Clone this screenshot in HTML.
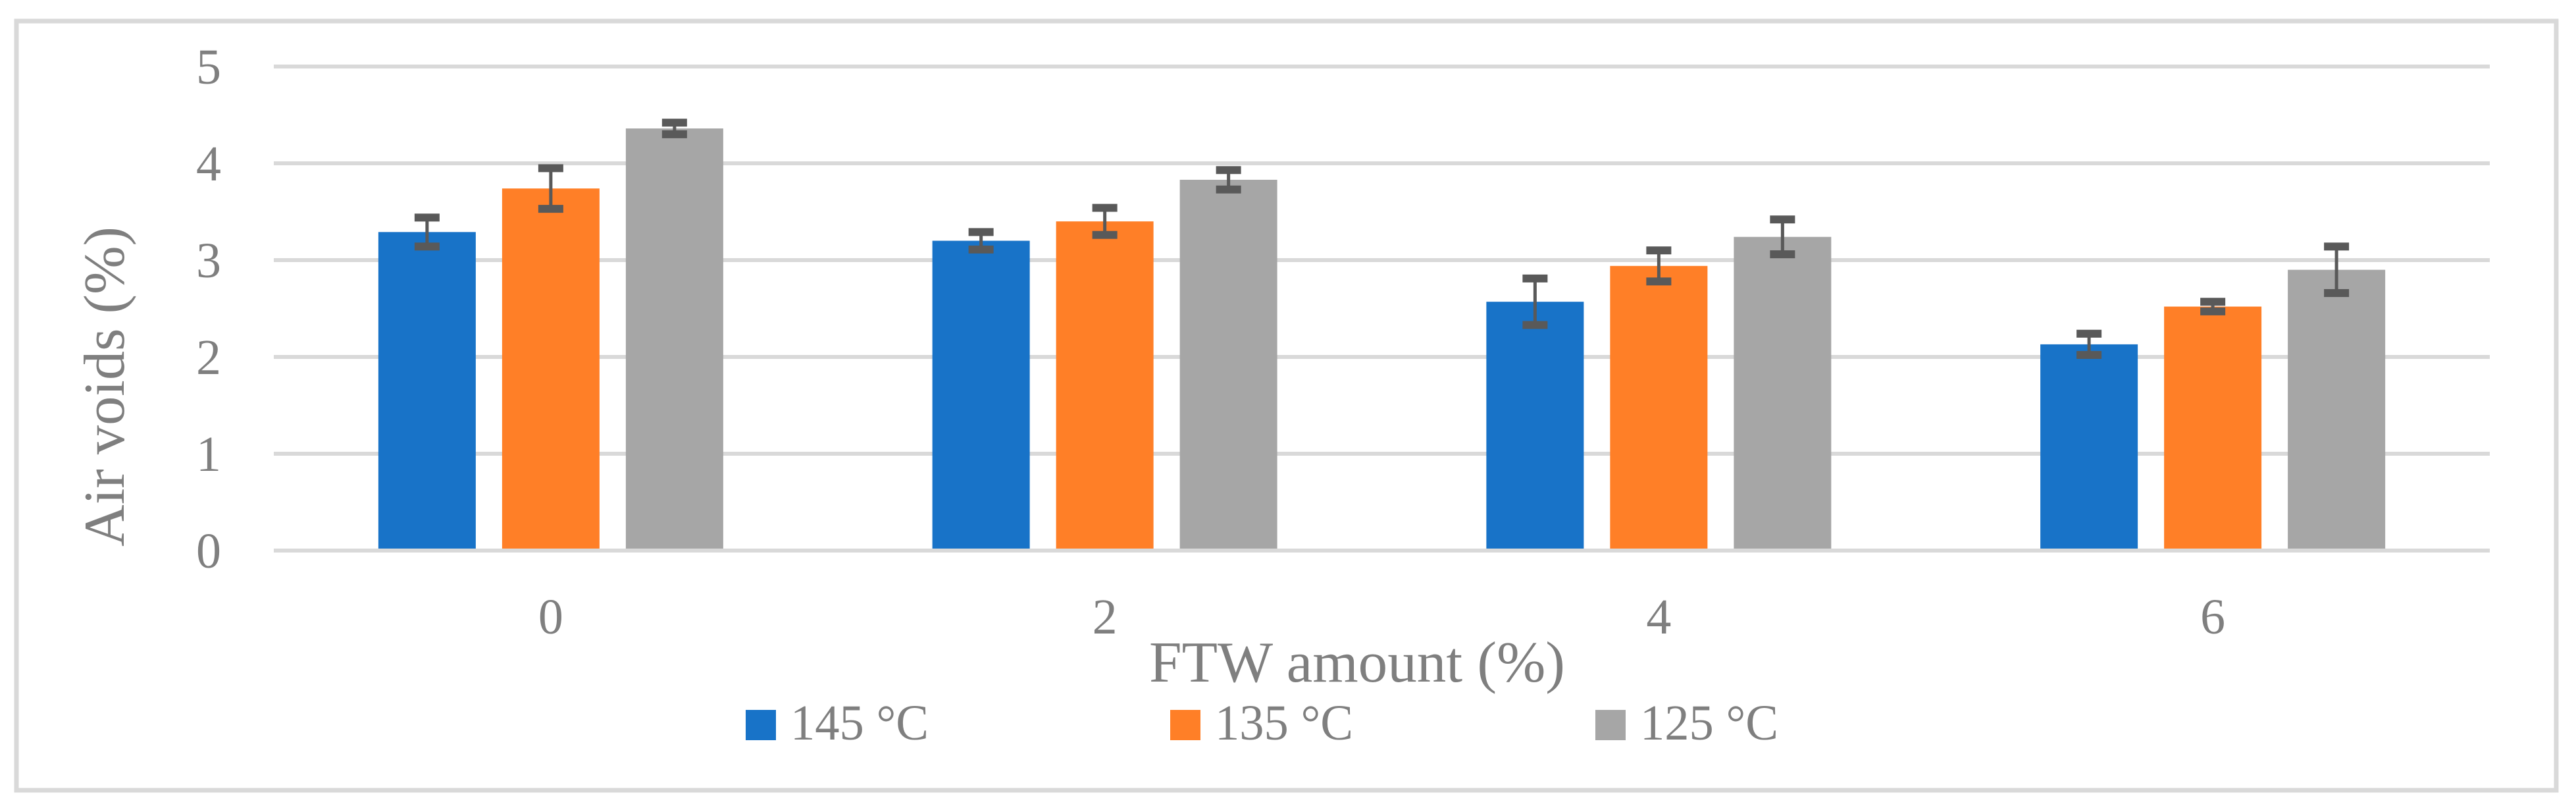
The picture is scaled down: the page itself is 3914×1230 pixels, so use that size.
<!DOCTYPE html>
<html><head><meta charset="utf-8"><style>
html,body{margin:0;padding:0;background:#fff;}
svg{display:block;}
text{font-family:"Liberation Serif",serif;fill:#7f7f7f;}
</style></head><body>
<svg id="chart" width="3914" height="1230" viewBox="0 0 3914 1230" xmlns="http://www.w3.org/2000/svg">
<rect x="25" y="32" width="3859" height="1168" fill="#fff" stroke="#d9d9d9" stroke-width="7"/>
<g id="grid"></g><g id="bars"></g><g id="errs"></g><g id="labels"></g>
<text transform="translate(188,587) rotate(-90)" text-anchor="middle" font-size="88" textLength="486" lengthAdjust="spacingAndGlyphs">Air voids (%)</text>
<text x="2062" y="1035" text-anchor="middle" font-size="88" textLength="632" lengthAdjust="spacingAndGlyphs">FTW amount (%)</text>
<g id="legend"></g>
</svg>
<script>
const categories = ["0","2","4","6"];
const seriesNames = ["145 °C","135 °C","125 °C"];
const s145 = [3.29, 3.20, 2.57, 2.13];
const s135 = [3.74, 3.40, 2.94, 2.52];
const s125 = [4.36, 3.83, 3.24, 2.90];
const e145 = [0.15, 0.09, 0.24, 0.11];
const e135 = [0.21, 0.14, 0.16, 0.05];
const e125 = [0.06, 0.10, 0.18, 0.24];
const yTicks = [0,1,2,3,4,5];
const colors = ["#1873c8","#ff7f27","#a6a6a6"];
const NS="http://www.w3.org/2000/svg";
const L=416,R=3783,Y0=836,UNIT=147;
const cw=(R-L)/categories.length;
const y=v=>Y0-v*UNIT;
const xc=i=>L+cw*(i+0.5);
function mk(tag,attrs,parent){const e=document.createElementNS(NS,tag);for(const k in attrs)e.setAttribute(k,attrs[k]);document.getElementById(parent).appendChild(e);return e;}
yTicks.forEach(t=>{
  const l=mk('line',{x1:L,x2:R,y1:y(t),y2:y(t),stroke:'#d9d9d9','stroke-width':6},'grid');
  
  
  const tx=mk('text',{x:336,y:y(t)+26,'text-anchor':'end','font-size':76},'labels');
  tx.textContent=t;
  
  
});
categories.forEach((c,i)=>{
  const tx=mk('text',{x:xc(i),y:962,'text-anchor':'middle','font-size':76},'labels');
  tx.textContent=c;
  
  
});
const series=[s145,s135,s125], errs=[e145,e135,e125];
const bw=148, step=188;
series.forEach((s,k)=>{
  s.forEach((v,i)=>{
    const cx=xc(i)+(k-1)*step;
    const b=mk('rect',{x:cx-bw/2,y:y(v),width:bw,height:Y0-3-y(v),fill:colors[k]},'bars');
    
    
    const e=errs[k][i];
    const g=mk('g',{stroke:'#595959','stroke-width':6},'errs');
    
    
    [[cx,cx,y(v+e),y(v-e)],[cx-19,cx+19,y(v+e),y(v+e)],[cx-19,cx+19,y(v-e),y(v-e)]].forEach(p=>{
      const ln=document.createElementNS(NS,'line');
      ln.setAttribute('x1',p[0]);ln.setAttribute('x2',p[1]);ln.setAttribute('y1',p[2]);ln.setAttribute('y2',p[3]);
      if(p[2]===p[3]) ln.setAttribute('stroke-width',12);
      else ln.setAttribute('stroke-width',5);
      g.appendChild(ln);
    });
  });
});
const lx=[1133,1778,2424];
seriesNames.forEach((n,k)=>{
  const g=mk('g',{},'legend');
  
  
  const r=document.createElementNS(NS,'rect');
  r.setAttribute('x',lx[k]);r.setAttribute('y',1078);r.setAttribute('width',46);r.setAttribute('height',46);r.setAttribute('fill',colors[k]);
  g.appendChild(r);
  const t=document.createElementNS(NS,'text');
  t.setAttribute('x',lx[k]+68);t.setAttribute('y',1123);t.setAttribute('font-size',76);
  t.setAttribute('textLength',210);t.setAttribute('lengthAdjust','spacingAndGlyphs');
  t.textContent=n;
  g.appendChild(t);
});
</script>
</body></html>
